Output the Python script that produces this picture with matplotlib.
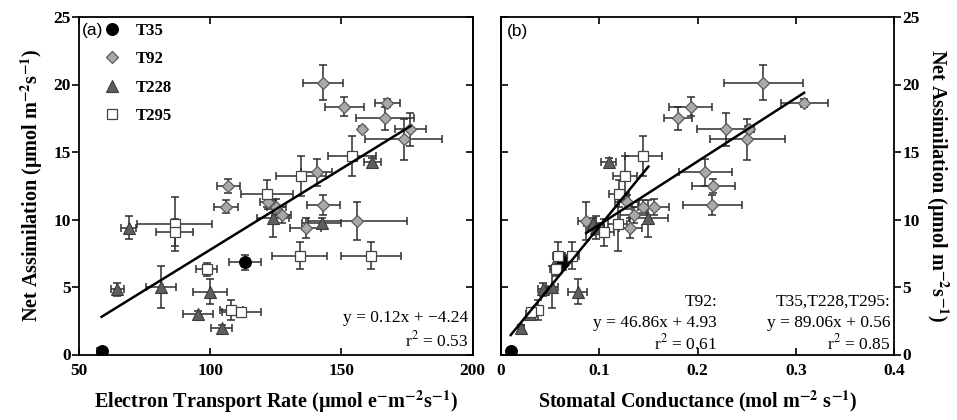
import numpy as np
import matplotlib
matplotlib.use("Agg")
import matplotlib.pyplot as plt
from matplotlib.lines import Line2D

plt.rcParams['font.family'] = ['Liberation Serif', 'DejaVu Serif']
plt.rcParams['mathtext.fontset'] = 'stix'

# ---------------- data ----------------
treatments = ["T35", "T92", "T228", "T295"]

# T35
t35_A = [0.26, 6.83]
t35_Aerr = [0.1, 0.55]
t35_ETR = [58.6, 113.2]
t35_ETRerr = [1.8, 6.0]
t35_gs = [0.0099, 0.0636]
t35_gserr = [0.002, 0.004]

# T92
t92_A = [20.13, 18.36, 18.6, 17.5, 16.73, 16.68, 15.94, 13.5, 12.48,
         11.3, 11.07, 10.95, 10.9, 10.35, 9.89, 9.35]
t92_Aerr = [1.3, 0.68, 0.3, 0.86, 0.2, 1.2, 1.5, 1.0, 0.5,
            0.5, 0.74, 0.5, 0.6, 0.6, 1.44, 0.74]
t92_ETR = [142.8, 151.0, 167.4, 166.5, 158.0, 176.3, 173.7, 140.5, 106.8,
           122.0, 143.0, 106.0, 125.2, 127.2, 156.0, 136.4]
t92_ETRerr = [7.6, 7.4, 4.8, 11.0, 0.5, 6.0, 14.6, 5.9, 4.4,
              3.0, 6.3, 4.4, 3.5, 3.5, 18.8, 5.9]
t92_gs = [0.267, 0.193, 0.3085, 0.180, 0.252, 0.2286, 0.2507, 0.208, 0.216,
          0.128, 0.215, 0.145, 0.1555, 0.135, 0.0867, 0.1316]
t92_gserr = [0.040, 0.022, 0.024, 0.014, 0.004, 0.029, 0.038, 0.027, 0.022,
             0.012, 0.030, 0.012, 0.016, 0.014, 0.008, 0.012]

# T228
t228_A = [1.94, 3.0, 4.83, 5.02, 4.65, 14.24, 9.72, 10.1, 9.39]
t228_Aerr = [0.25, 0.2, 0.5, 1.56, 0.94, 0.3, 0.4, 1.36, 0.85]
t228_ETR = [104.3, 95.4, 64.6, 81.1, 99.9, 161.8, 142.4, 124.0, 69.0]
t228_ETRerr = [3.9, 5.7, 2.5, 5.7, 6.3, 3.2, 7.4, 6.0, 2.9]
t228_gs = [0.020, 0.0296, 0.0425, 0.0517, 0.078, 0.1095, 0.094, 0.150, 0.097]
t228_gserr = [0.003, 0.004, 0.005, 0.006, 0.010, 0.008, 0.010, 0.020, 0.008]

# T295
t295_A = [3.27, 3.17, 6.31, 7.32, 7.32, 13.22, 14.7, 9.64, 9.07, 11.9]
t295_Aerr = [0.74, 0.3, 0.5, 1.0, 1.0, 1.5, 1.5, 2.0, 1.0, 1.0]
t295_ETR = [108.1, 111.9, 98.6, 134.1, 161.4, 134.5, 154.0, 86.5, 86.5, 121.7]
t295_ETRerr = [4.5, 7.6, 4.1, 10.4, 11.4, 9.6, 9.2, 14.3, 7.0, 10.0]
t295_gs = [0.038, 0.031, 0.056, 0.0585, 0.072, 0.126, 0.145, 0.1187, 0.105, 0.120]
t295_gserr = [0.005, 0.004, 0.006, 0.006, 0.007, 0.012, 0.019, 0.010, 0.010, 0.010]

# regressions (as printed)
fit_etr = (0.12, -4.24, 0.53)
fit_gs_t92 = (46.86, 4.93, 0.61)
fit_gs_rest = (89.06, 0.56, 0.85)

x_ticks_etr = [50, 100, 150, 200]
x_ticks_gs = [0, 0.1, 0.2, 0.3, 0.4]
x_ticklabels_gs = ["0", "0.1", "0.2", "0.3", "0.4"]
y_ticks = [0, 5, 10, 15, 20, 25]

# ---------------- styles ----------------
styles = {
    "T35": dict(marker='o', ms=8.5, mfc='black', mec='black', mew=0.8),
    "T92": dict(marker='D', ms=6.5, mfc='#a9a9a9', mec='#5a5a5a', mew=0.9),
    "T228": dict(marker='^', ms=9.0, mfc='#5e5e5e', mec='#3a3a3a', mew=0.8),
    "T295": dict(marker='s', ms=6.8, mfc='white', mec='#444444', mew=0.9),
}
series = {
    "T35": (t35_A, t35_Aerr, t35_ETR, t35_ETRerr, t35_gs, t35_gserr),
    "T92": (t92_A, t92_Aerr, t92_ETR, t92_ETRerr, t92_gs, t92_gserr),
    "T228": (t228_A, t228_Aerr, t228_ETR, t228_ETRerr, t228_gs, t228_gserr),
    "T295": (t295_A, t295_Aerr, t295_ETR, t295_ETRerr, t295_gs, t295_gserr),
}

W, H = 957, 420
fig = plt.figure(figsize=(W / 100, H / 100), dpi=100)
bot = 1 - 354.5 / H
hgt = (354.5 - 17) / H
ax1 = fig.add_axes([79 / W, bot, (472.7 - 79) / W, hgt])
ax2 = fig.add_axes([501 / W, bot, (894 - 501) / W, hgt])

ebkw = dict(fmt='none', ecolor='#2e2e2e', elinewidth=1.1, capsize=3, capthick=1.1)

for t in treatments:
    A, Ae, E, Ee, g, ge = series[t]
    ax1.errorbar(E, A, xerr=Ee, yerr=Ae, zorder=2, **ebkw)
    ax1.plot(E, A, linestyle='none', zorder=3, **styles[t])
    ax2.errorbar(g, A, xerr=ge, yerr=Ae, zorder=2, **ebkw)
    ax2.plot(g, A, linestyle='none', zorder=3, **styles[t])

# regression lines
all_etr = np.concatenate([series[t][2] for t in treatments])
xl = np.array([all_etr.min(), all_etr.max()])
ax1.plot(xl, fit_etr[0] * xl + fit_etr[1], color='black', lw=1.8, zorder=5)

g92 = np.array(t92_gs)
xg = np.array([g92.min(), g92.max()])
ax2.plot(xg, fit_gs_t92[0] * xg + fit_gs_t92[1], color='black', lw=1.8, zorder=5)
grest = np.concatenate([t35_gs, t228_gs, t295_gs])
xr = np.array([grest.min(), grest.max()])
ax2.plot(xr, fit_gs_rest[0] * xr + fit_gs_rest[1], color='black', lw=1.8, zorder=5)

tickfont = dict(family='Liberation Serif', weight='bold', size=12.5)
labfont = dict(family='Liberation Serif', weight='bold', size=14.5)

for ax in (ax1, ax2):
    ax.set_ylim(0, 25)
    ax.set_yticks(y_ticks)
    for s in ax.spines.values():
        s.set_linewidth(1.3)
    ax.tick_params(axis='x', direction='in', top=True, bottom=True, length=5, width=1.2, pad=6)
    ax.tick_params(axis='y', length=5, width=1.2)

ax1.set_xlim(50, 200)
ax1.set_xticks(x_ticks_etr)
ax1.set_xticklabels([str(v) for v in x_ticks_etr], **tickfont)
ax1.set_yticklabels([str(v) for v in y_ticks], **tickfont)
ax1.tick_params(axis='y', direction='out', left=True, right=False, pad=1)
sec1 = ax1.secondary_yaxis('right')
sec1.set_yticks(y_ticks)
sec1.tick_params(axis='y', direction='in', length=5, width=1.2, labelright=False)
sec1.spines['right'].set_linewidth(1.3)

ax2.set_xlim(0, 0.4)
ax2.set_xticks(x_ticks_gs)
ax2.set_xticklabels(x_ticklabels_gs, **tickfont)
ax2.yaxis.tick_right()
ax2.set_yticklabels([str(v) for v in y_ticks], **tickfont)
ax2.tick_params(axis='y', direction='out', left=False, right=True, pad=1)
sec2 = ax2.secondary_yaxis('left')
sec2.set_yticks(y_ticks)
sec2.tick_params(axis='y', direction='in', length=5, width=1.2, labelleft=False)
sec2.spines['left'].set_linewidth(1.3)

ax1.set_xlabel(r'Electron Transport Rate (µmol e$^{\mathbf{-}}$m$^{\mathbf{-2}}$s$^{\mathbf{-1}}$)',
               labelpad=7, **labfont)
ax2.set_xlabel(r'Stomatal Conductance (mol m$^{\mathbf{-2}}$ s$^{\mathbf{-1}}$)',
               labelpad=7, **labfont)
ylab = r'Net Assimilation (µmol m$^{\mathbf{-2}}$s$^{\mathbf{-1}}$)'
ax1.set_ylabel(ylab, labelpad=6, **labfont)
ax2.yaxis.set_label_position('right')
ax2.set_ylabel(ylab, rotation=270, labelpad=22, **labfont)

# panel letters
ax1.text(0.008, 0.961, '(a)', transform=ax1.transAxes, ha='left', va='center',
         family='Liberation Sans', fontsize=12.5)
ax2.text(0.015, 0.956, '(b)', transform=ax2.transAxes, ha='left', va='center',
         family='Liberation Sans', fontsize=12.5)

# legend
handles = [Line2D([], [], linestyle='none', **styles[t]) for t in treatments]
ax1.legend(handles, treatments, loc='upper left', bbox_to_anchor=(0.03, 1.018),
           frameon=False, prop=dict(family='Liberation Serif', weight='bold', size=12),
           handlelength=1.2, handletextpad=0.8, labelspacing=0.75, borderaxespad=0.3)

# equations
eqfont = dict(family='Liberation Serif', size=12.5)
ax1.text(0.989, 0.096, f'y = {fit_etr[0]:.2f}x + \u2212{abs(fit_etr[1]):.2f}',
         transform=ax1.transAxes, ha='right', va='baseline', **eqfont)
ax1.text(0.989, 0.025, f'r$^2$ = {fit_etr[2]:.2f}',
         transform=ax1.transAxes, ha='right', va='baseline', **eqfont)

xa = (717 - 501) / 393
ax2.text(xa, 0.144, 'T92:', transform=ax2.transAxes, ha='right', va='baseline', **eqfont)
ax2.text(xa, 0.081, f'y = {fit_gs_t92[0]:.2f}x + {fit_gs_t92[1]:.2f}',
         transform=ax2.transAxes, ha='right', va='baseline', **eqfont)
ax2.text(xa, 0.016, f'r$^2$ = {fit_gs_t92[2]:.2f}',
         transform=ax2.transAxes, ha='right', va='baseline', **eqfont)
xb = 0.99
ax2.text(xb, 0.144, 'T35,T228,T295:', transform=ax2.transAxes, ha='right', va='baseline', **eqfont)
ax2.text(xb, 0.081, f'y = {fit_gs_rest[0]:.2f}x + {fit_gs_rest[1]:.2f}',
         transform=ax2.transAxes, ha='right', va='baseline', **eqfont)
ax2.text(xb, 0.016, f'r$^2$ = {fit_gs_rest[2]:.2f}',
         transform=ax2.transAxes, ha='right', va='baseline', **eqfont)

fig.savefig('out.png', dpi=100)
